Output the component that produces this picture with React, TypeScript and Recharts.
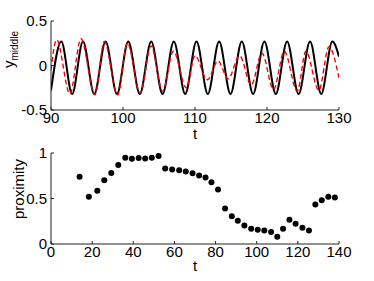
import React from 'react';
import { LineChart, Line, ScatterChart, Scatter, XAxis, YAxis } from 'recharts';

// top panel: turning points of the two traces
const blackT = [90, 91.43, 92.94, 94.44, 96.01, 97.58, 99.16, 100.73, 102.33, 103.92, 105.49, 107.06, 108.64,
  110.21, 111.78, 113.35, 114.93, 116.5, 118.07, 119.64, 121.22, 122.79, 124.39, 125.98, 127.53, 129.08, 130];
const blackY = [-0.28, 0.27, -0.32, 0.27, -0.32, 0.27, -0.32, 0.27, -0.32, 0.27, -0.32, 0.27, -0.32,
  0.27, -0.32, 0.27, -0.32, 0.27, -0.32, 0.27, -0.32, 0.27, -0.32, 0.27, -0.32, 0.27, 0.1];

const redT = [90, 90.78, 92.63, 94.16, 96.1, 97.4, 99.25, 100.6, 102.4, 103.9, 105.5, 107.0, 108.8,
  110.0, 111.7, 113.2, 114.6, 116.2, 117.8, 119.3, 120.9, 122.4, 124.2, 125.4, 127.2, 128.6, 130];
const redY = [-0.05, 0.29, -0.32, 0.3, -0.33, 0.27, -0.33, 0.25, -0.31, 0.22, -0.29, 0.16, -0.25,
  0.11, -0.16, 0.05, -0.15, 0.11, -0.22, 0.14, -0.27, 0.16, -0.29, 0.16, -0.28, 0.21, -0.14];

// bottom panel
const proxT = [13.9, 18.4, 22.5, 25.9, 29.3, 32.7, 36.1, 39.3, 42.6, 45.8, 49.0, 52.3, 55.5, 58.9, 62.3, 65.5,
  68.8, 72.0, 75.1, 78.0, 81.2, 84.6, 87.9, 90.8, 94.0, 97.3, 100.5, 103.7, 107.0, 110.0, 112.8, 115.9,
  118.9, 122.2, 125.4, 128.5, 131.6, 134.8, 138.0];
const proximity = [0.74, 0.52, 0.585, 0.7, 0.78, 0.867, 0.948, 0.937, 0.944, 0.94, 0.948, 0.967, 0.83, 0.819,
  0.811, 0.796, 0.778, 0.752, 0.73, 0.678, 0.6, 0.389, 0.304, 0.256, 0.204, 0.167, 0.156, 0.148, 0.133,
  0.081, 0.167, 0.267, 0.222, 0.178, 0.148, 0.433, 0.481, 0.519, 0.511];

const topTicksX = [90, 100, 110, 120, 130];
const topTicksY = [-0.5, 0, 0.5];
const botTicksX = [0, 20, 40, 60, 80, 100, 120, 140];
const botTicksY = [0, 0.5, 1];

const blackData = blackT.map((t, i) => ({ t, y: blackY[i] }));
const redData = redT.map((t, i) => ({ t, y: redY[i] }));
const proxData = proxT.map((t, i) => ({ t, p: proximity[i] }));

const tickStyle = { fontSize: 15, fill: '#000' };
const frame = '#222';
const lightFrame = '#888';
const noText = () => '';

const Dot = (props: any) => <circle cx={props.cx} cy={props.cy} r={3} fill="#000" />;

export default function App() {
  return (
    <div style={{ position: 'absolute', left: 0, top: 0, width: 374, height: 281, background: '#fff', fontFamily: 'Liberation Sans, Arial, sans-serif' }}>
      <div style={{ position: 'absolute', left: 0, top: 0 }}>
        <LineChart width={374} height={146} margin={{ top: 21, right: 35, bottom: 18, left: 11 }}>
          <XAxis dataKey="t" type="number" domain={[90, 130]} ticks={topTicksX} allowDataOverflow
            height={18} tickSize={-3} tickMargin={5} tick={tickStyle} stroke={frame}
            label={{ value: 't', position: 'bottom', offset: 0, fontSize: 15, fill: '#000' }} />
          <XAxis xAxisId="top" orientation="top" type="number" domain={[90, 130]} ticks={topTicksX}
            height={0} tickSize={-3} tickFormatter={noText} stroke={lightFrame} />
          <YAxis type="number" domain={[-0.5, 0.5]} ticks={topTicksY} width={40} tickSize={-3} tickMargin={7}
            tick={tickStyle} stroke={frame}
            label={{
              content: () => (
                <text transform="translate(14,68) rotate(-90)" fontSize={15} fill="#000">
                  <tspan>y</tspan>
                  <tspan fontSize={10} dy={4}>middle</tspan>
                </text>
              ),
            }} />
          <YAxis yAxisId="right" orientation="right" type="number" domain={[-0.5, 0.5]} ticks={topTicksY}
            width={0} tickSize={-3} tickFormatter={noText} stroke={lightFrame} />
          <Line data={blackData} dataKey="y" type="monotone" stroke="#000" strokeWidth={2} dot={false} isAnimationActive={false} />
          <Line data={redData} dataKey="y" type="monotone" stroke="#ff0000" strokeWidth={1.4} strokeDasharray="5 3" dot={false} isAnimationActive={false} />
        </LineChart>
      </div>
      <div style={{ position: 'absolute', left: 0, top: 140 }}>
        <ScatterChart width={374} height={141} margin={{ top: 13, right: 35, bottom: 19, left: 11 }}>
          <XAxis dataKey="t" type="number" domain={[0, 140]} ticks={botTicksX} height={18} tickSize={-3}
            tickMargin={5} tick={tickStyle} stroke={frame}
            label={{ value: 't', position: 'bottom', offset: -2, fontSize: 15, fill: '#000' }} />
          <XAxis xAxisId="top" orientation="top" type="number" domain={[0, 140]} ticks={botTicksX}
            height={0} tickSize={-3} tickFormatter={noText} stroke="#555" />
          <YAxis dataKey="p" type="number" domain={[0, 1]} ticks={botTicksY} width={40} tickSize={-3}
            tickMargin={7} tick={tickStyle} stroke={frame}
            label={{
              content: () => (
                <text transform="translate(24,49) rotate(-90)" fontSize={15} fill="#000" textAnchor="middle">
                  proximity
                </text>
              ),
            }} />
          <YAxis yAxisId="right" orientation="right" type="number" domain={[0, 1]} ticks={botTicksY}
            width={0} tickSize={-3} tickFormatter={noText} stroke="#555" />
          <Scatter data={proxData} dataKey="p" shape={Dot} isAnimationActive={false} />
        </ScatterChart>
      </div>
    </div>
  );
}
